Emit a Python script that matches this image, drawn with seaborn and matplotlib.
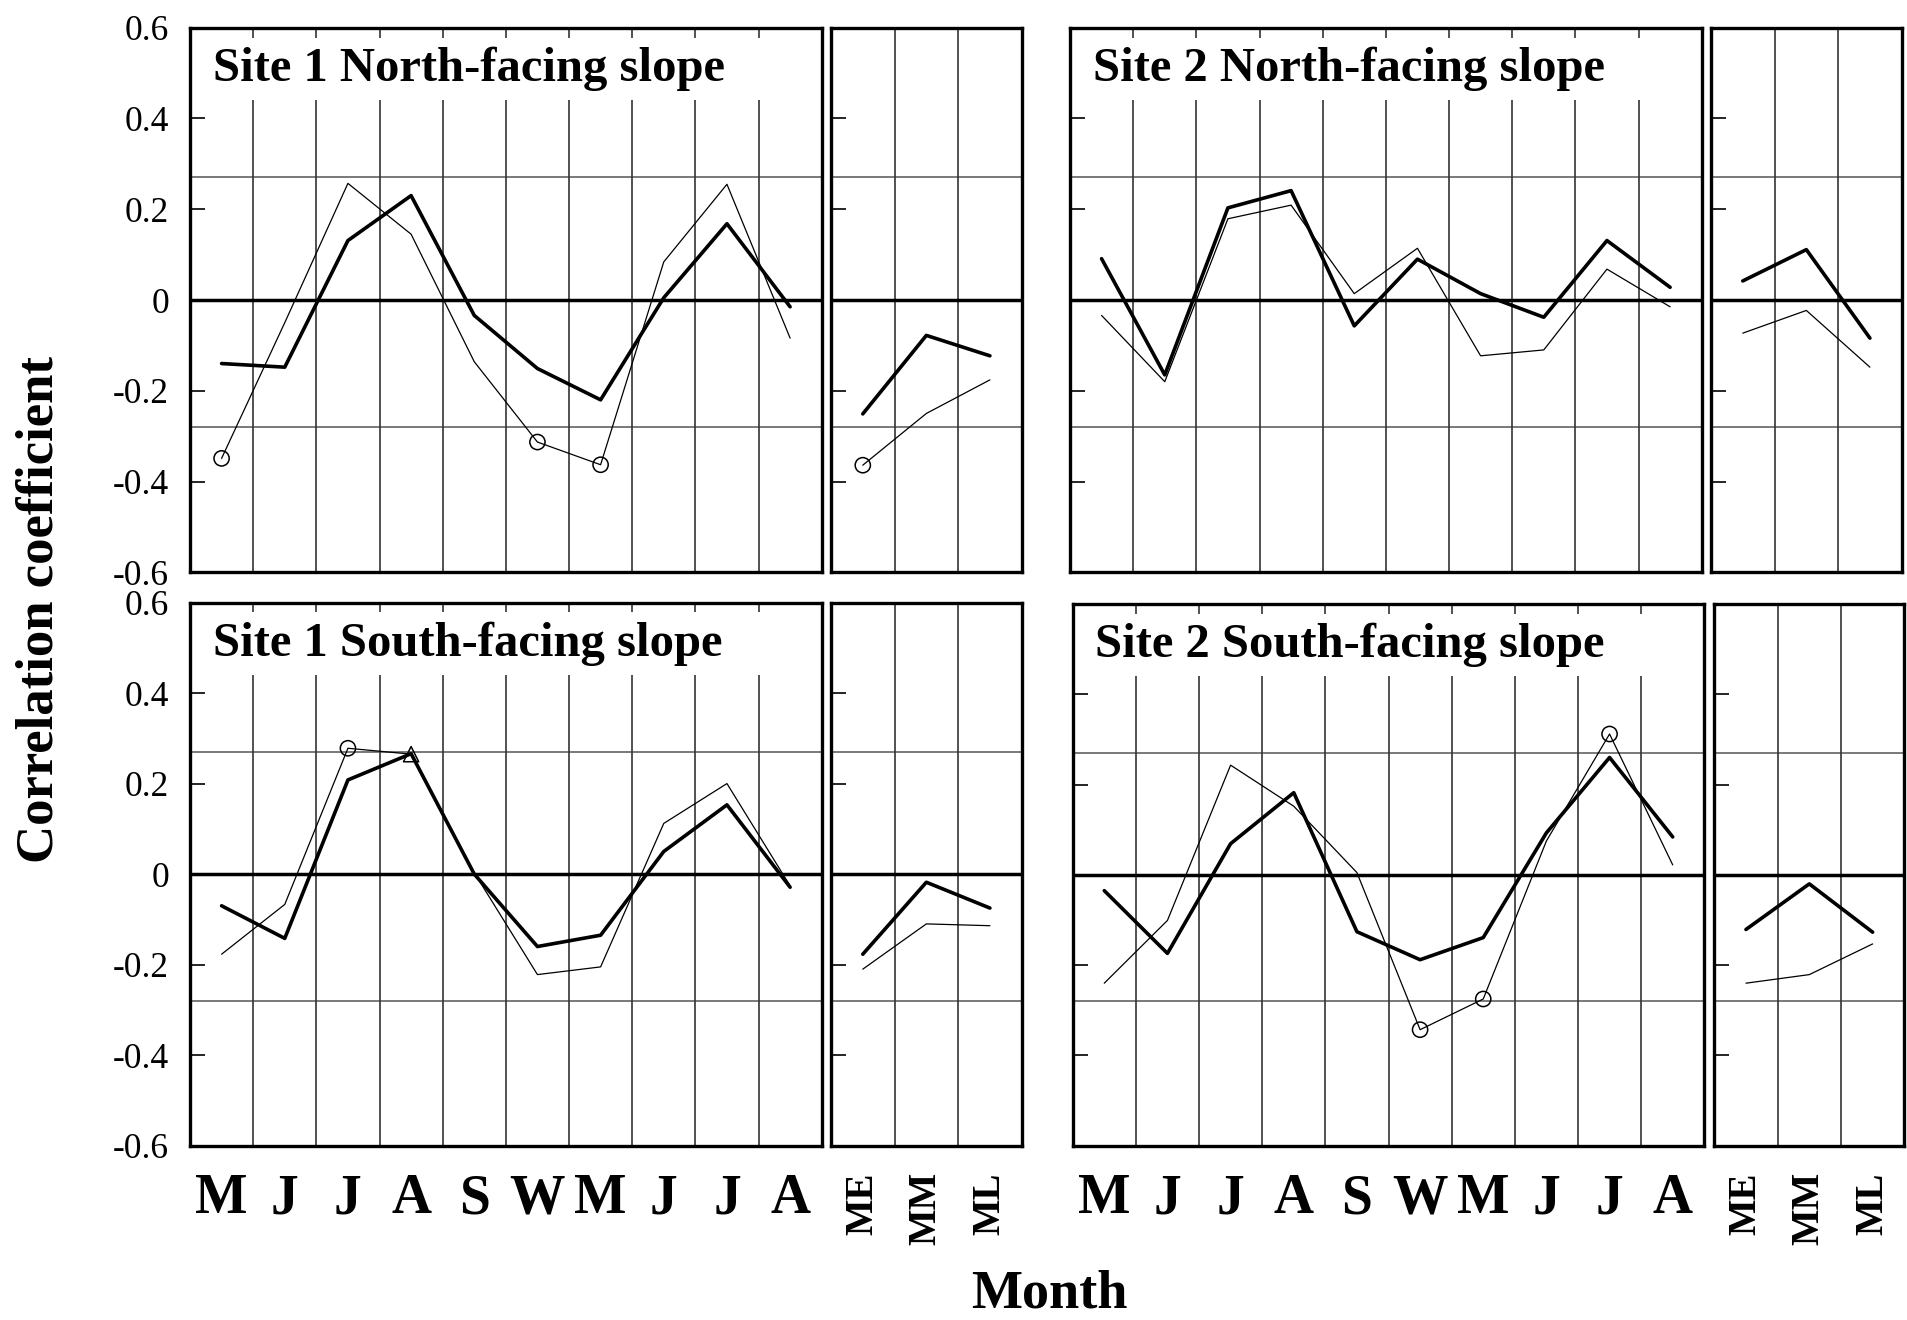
import numpy as np
import pandas as pd
import matplotlib
matplotlib.use("Agg")
import matplotlib.pyplot as plt
import seaborn as sns

# ---------------- data ----------------
months = ["M", "J", "J", "A", "S", "W", "M", "J", "J", "A"]
periods = ["ME", "MM", "ML"]
ytick_vals = [-0.6, -0.4, -0.2, 0.0, 0.2, 0.4, 0.6]
ytick_labels = ["-0.6", "-0.4", "-0.2", "0", "0.2", "0.4", "0.6"]
sig_upper = 0.27
sig_lower = -0.28

titles = ["Site 1 North-facing slope", "Site 2 North-facing slope",
          "Site 1 South-facing slope", "Site 2 South-facing slope"]

# bold line (series A) and thin line (series B), monthly
s1n_bold = [-0.14, -0.148, 0.131, 0.23, -0.034, -0.151, -0.22, 0.005, 0.168, -0.015]
s1n_thin = [-0.349, -0.05, 0.257, 0.145, -0.136, -0.313, -0.363, 0.084, 0.255, -0.084]
s1n_bold_p = [-0.251, -0.078, -0.123]
s1n_thin_p = [-0.364, -0.25, -0.176]

s2n_bold = [0.091, -0.165, 0.203, 0.241, -0.057, 0.090, 0.014, -0.038, 0.131, 0.028]
s2n_thin = [-0.034, -0.18, 0.179, 0.209, 0.014, 0.114, -0.123, -0.11, 0.068, -0.015]
s2n_bold_p = [0.042, 0.111, -0.084]
s2n_thin_p = [-0.073, -0.023, -0.148]

s1s_bold = [-0.07, -0.142, 0.208, 0.266, 0.0, -0.16, -0.135, 0.05, 0.153, -0.029]
s1s_thin = [-0.177, -0.067, 0.278, 0.265, 0.003, -0.222, -0.205, 0.112, 0.2, -0.026]
s1s_bold_p = [-0.177, -0.018, -0.075]
s1s_thin_p = [-0.21, -0.11, -0.114]

s2s_bold = [-0.035, -0.174, 0.069, 0.182, -0.126, -0.188, -0.139, 0.093, 0.26, 0.084]
s2s_thin = [-0.24, -0.101, 0.243, 0.152, 0.005, -0.343, -0.275, 0.075, 0.312, 0.022]
s2s_bold_p = [-0.121, -0.02, -0.127]
s2s_thin_p = [-0.24, -0.221, -0.153]

# significant points on the thin series (indices), circles / triangles
s1n_circles = [0, 5, 6]
s1n_circles_p = [0]
s1s_circles = [2]
s1s_triangles = [3]
s2s_circles = [5, 6, 8]

# ---------------- style ----------------
sns.set_theme(style="white")
plt.rcParams["font.family"] = ["Liberation Serif", "DejaVu Serif"]
plt.rcParams["axes.linewidth"] = 2.2
for k in ["text.color", "axes.labelcolor", "xtick.color", "ytick.color", "axes.edgecolor"]:
    plt.rcParams[k] = "black"

W, H = 1907, 1320
fig = plt.figure(figsize=(W / 100, H / 100), dpi=100)


def fx(px):
    return px / W


def fy(px):
    return 1 - px / H


def make_ax(left, right, top, bottom):
    return fig.add_axes([fx(left), fy(bottom), fx(right - left), (bottom - top) / H])


panels = [
    dict(main=(190, 821.7, 27.7, 572.3), small=(831, 1021.7, 27.7, 572.3),
         bold=s1n_bold, thin=s1n_thin, bold_p=s1n_bold_p, thin_p=s1n_thin_p,
         circ=s1n_circles, circ_p=s1n_circles_p, tri=[], ylab=True, xlab=False, title=titles[0]),
    dict(main=(1070, 1701.7, 27.7, 572.3), small=(1711, 1901.7, 27.7, 572.3),
         bold=s2n_bold, thin=s2n_thin, bold_p=s2n_bold_p, thin_p=s2n_thin_p,
         circ=[], circ_p=[], tri=[], ylab=False, xlab=False, title=titles[1]),
    dict(main=(190, 821.7, 602.5, 1145.7), small=(831, 1021.7, 602.5, 1145.7),
         bold=s1s_bold, thin=s1s_thin, bold_p=s1s_bold_p, thin_p=s1s_thin_p,
         circ=s1s_circles, circ_p=[], tri=s1s_triangles, ylab=True, xlab=True, title=titles[2]),
    dict(main=(1072.7, 1704.3, 604, 1145.7), small=(1714.3, 1904.3, 604, 1145.7),
         bold=s2s_bold, thin=s2s_thin, bold_p=s2s_bold_p, thin_p=s2s_thin_p,
         circ=s2s_circles, circ_p=[], tri=[], ylab=False, xlab=True, title=titles[3]),
]

GRID_C = "#333333"
SIG_C = "#555555"


def style_common(ax, n):
    ax.set_xlim(-0.5, n - 0.5)
    ax.set_ylim(-0.6, 0.6)
    ax.set_yticks(ytick_vals)
    ax.tick_params(axis="y", direction="in", length=11, width=1.2, color="black",
                   labelcolor="black", left=True, right=False, pad=15, labelsize=25.5)
    ax.tick_params(axis="x", bottom=False, top=False, labelcolor="black")
    for s in ax.spines.values():
        s.set_color("black")
        s.set_linewidth(2.4)
    ax.axhline(0, color="black", lw=2.5, zorder=2)
    ax.axhline(sig_upper, color=SIG_C, lw=1.1, zorder=1)
    ax.axhline(sig_lower, color=SIG_C, lw=1.1, zorder=1)
    ax.set_xlabel("")
    ax.set_ylabel("")


def draw_series(ax, bold, thin, circ, tri):
    x = np.arange(len(bold))
    df = pd.DataFrame({"x": x, "bold": bold, "thin": thin})
    sns.lineplot(data=df, x="x", y="thin", ax=ax, color="black", linewidth=0.9,
                 estimator=None, sort=False, zorder=3)
    sns.lineplot(data=df, x="x", y="bold", ax=ax, color="black", linewidth=2.6,
                 estimator=None, sort=False, zorder=4)
    if circ:
        cdf = df.iloc[circ]
        sns.scatterplot(data=cdf, x="x", y="thin", ax=ax, marker="o", s=120,
                        facecolor="none", edgecolor="black", linewidth=1.1, zorder=5)
    if tri:
        tdf = df.iloc[tri]
        sns.scatterplot(data=tdf, x="x", y="thin", ax=ax, marker="^", s=120,
                        facecolor="none", edgecolor="black", linewidth=1.1, zorder=5)


for p in panels:
    # ---- main monthly panel ----
    ax = make_ax(*p["main"])
    n = len(months)
    draw_series(ax, p["bold"], p["thin"], p["circ"], p["tri"])
    style_common(ax, n)
    seps = np.arange(n - 1) + 0.5
    ax.vlines(seps, -0.6, 0.44, color=GRID_C, lw=1.2, zorder=1)
    ax.vlines(seps, 0.578, 0.6, color=GRID_C, lw=1.2, zorder=1)
    ax.text(0.036, 0.902, p["title"], transform=ax.transAxes, fontsize=35,
            fontweight="bold", ha="left", va="baseline", color="black")
    if p["ylab"]:
        ax.set_yticklabels(ytick_labels)
    else:
        ax.set_yticklabels([])
    ax.set_xticks(np.arange(n))
    if p["xlab"]:
        ax.set_xticklabels(months, fontsize=40, fontweight="bold", color="black")
        ax.tick_params(axis="x", pad=14)
    else:
        ax.set_xticklabels([])

    # ---- small period panel ----
    axs = make_ax(*p["small"])
    m = len(periods)
    draw_series(axs, p["bold_p"], p["thin_p"], p["circ_p"], [])
    style_common(axs, m)
    axs.vlines(np.arange(m - 1) + 0.5, -0.6, 0.6, color=GRID_C, lw=1.2, zorder=1)
    axs.set_yticklabels([])
    axs.set_xticks(np.arange(m))
    if p["xlab"]:
        axs.set_xticklabels(periods, fontsize=28, fontweight="bold", rotation=90,
                            color="black")
        axs.tick_params(axis="x", pad=13)
    else:
        axs.set_xticklabels([])

fig.text(fx(40), fy(609), "Correlation coefficient", rotation=90, fontsize=38,
         fontweight="bold", ha="center", va="center", color="black")
fig.text(fx(1049), fy(1319), "Month", fontsize=39, fontweight="bold",
         ha="center", va="bottom", color="black")

fig.savefig("out.png", dpi=100, facecolor="white")
